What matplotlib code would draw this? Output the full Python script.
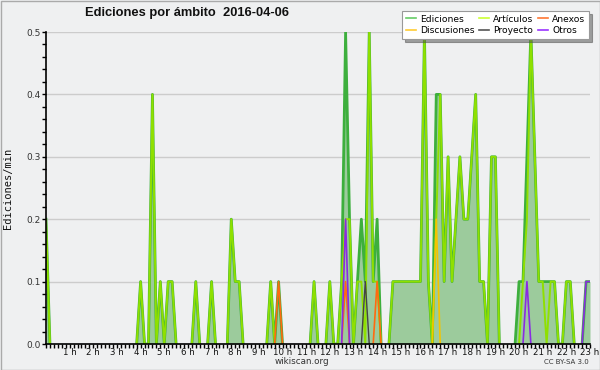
import numpy as np
import matplotlib
matplotlib.use("Agg")
import matplotlib.pyplot as plt
from matplotlib.ticker import MultipleLocator, FixedLocator, FixedFormatter
from matplotlib.patches import Rectangle

# 10-minute bins, values in edits/min, from 0 h to 23 h
ediciones = [
    0.2, 0, 0, 0, 0, 0, 0, 0, 0, 0, 0, 0,
    0, 0, 0, 0, 0, 0, 0, 0, 0, 0, 0, 0,
    0.1, 0, 0, 0.4, 0, 0.1, 0, 0.1, 0.1, 0, 0, 0,
    0, 0, 0.1, 0, 0, 0, 0.1, 0, 0, 0, 0, 0.2,
    0.1, 0.1, 0, 0, 0, 0, 0, 0, 0, 0.1, 0, 0.1,
    0, 0, 0, 0, 0, 0, 0, 0, 0.1, 0, 0, 0,
    0.1, 0, 0, 0.1, 0.5, 0.2, 0, 0.1, 0.2, 0.1, 0.5, 0.1,
    0.2, 0, 0, 0, 0.1, 0.1, 0.1, 0.1, 0.1, 0.1, 0.1, 0.1,
    0.5, 0.1, 0, 0.4, 0.4, 0.1, 0.3, 0.1, 0.2, 0.3, 0.2, 0.2,
    0.3, 0.4, 0.1, 0.1, 0, 0.3, 0.3, 0, 0, 0, 0, 0,
    0.1, 0.1, 0.3, 0.5, 0.3, 0.1, 0.1, 0.1, 0.1, 0.1, 0, 0,
    0.1, 0.1, 0, 0, 0, 0.1, 0.1,
]
articulos = [
    0.2, 0, 0, 0, 0, 0, 0, 0, 0, 0, 0, 0,
    0, 0, 0, 0, 0, 0, 0, 0, 0, 0, 0, 0,
    0.1, 0, 0, 0.4, 0, 0.1, 0, 0.1, 0.1, 0, 0, 0,
    0, 0, 0.1, 0, 0, 0, 0.1, 0, 0, 0, 0, 0.2,
    0.1, 0.1, 0, 0, 0, 0, 0, 0, 0, 0.1, 0, 0,
    0, 0, 0, 0, 0, 0, 0, 0, 0.1, 0, 0, 0,
    0.1, 0, 0, 0.1, 0.2, 0.2, 0, 0.1, 0.1, 0, 0.5, 0.1,
    0.1, 0, 0, 0, 0.1, 0.1, 0.1, 0.1, 0.1, 0.1, 0.1, 0.1,
    0.5, 0.1, 0, 0.2, 0.4, 0.1, 0.3, 0.1, 0.2, 0.3, 0.2, 0.2,
    0.3, 0.4, 0.1, 0.1, 0, 0.3, 0.3, 0, 0, 0, 0, 0,
    0, 0.1, 0.2, 0.5, 0.3, 0.1, 0.1, 0, 0.1, 0.1, 0, 0,
    0.1, 0.1, 0, 0, 0, 0, 0,
]
anexos_bins = [59, 76, 84]
anexos_vals = [0.1, 0.1, 0.1]
discusiones_bins = [99]
discusiones_vals = [0.2]
proyecto_bins = [81]
proyecto_vals = [0.1]
otros_bins = [76, 122, 137, 138]
otros_vals = [0.2, 0.1, 0.1, 0.1]

hour_labels = [f"{h} h" for h in range(1, 24)]

n = len(ediciones)
t = np.arange(n) / 6.0


def series(bins, vals):
    s = np.zeros(n)
    s[bins] = vals
    return s


def hide_baseline(vals):
    """Keep only points that belong to a segment leaving the baseline."""
    v = np.asarray(vals, dtype=float)
    out = v.copy()
    for i in range(len(v)):
        left = v[i - 1] if i > 0 else 0.0
        right = v[i + 1] if i < len(v) - 1 else 0.0
        if v[i] == 0 and left == 0 and right == 0:
            out[i] = np.nan
    return out


anexos = series(anexos_bins, anexos_vals)
discusiones = series(discusiones_bins, discusiones_vals)
proyecto = series(proyecto_bins, proyecto_vals)
otros = series(otros_bins, otros_vals)

bg = "#eff0f1"
fig = plt.figure(figsize=(6.0, 3.7), dpi=100, facecolor=bg)
ax = fig.add_axes([46 / 600, 26 / 370, 544 / 600, 312 / 370])
ax.set_facecolor(bg)

ax.fill_between(t, ediciones, 0, color="#9ccb9c", lw=0, zorder=2)
ax.plot(t, hide_baseline(ediciones), color="#3daf3d", lw=2.0, zorder=3)
ax.plot(t, hide_baseline(articulos), color="#8fe000", lw=1.4, zorder=4)
ax.plot(t, hide_baseline(discusiones), color="#f5c400", lw=1.2, zorder=5)
ax.plot(t, hide_baseline(anexos), color="#ff6a10", lw=1.2, zorder=5)
ax.plot(t, hide_baseline(proyecto), color="#444444", lw=1.0, zorder=5)
ax.plot(t, hide_baseline(otros), color="#8a2be2", lw=1.2, zorder=6)

ax.set_xlim(0, 23)
ax.set_ylim(0, 0.5)

for s in ["top", "right"]:
    ax.spines[s].set_visible(False)
for s in ["left", "bottom"]:
    ax.spines[s].set_color("black")
    ax.spines[s].set_linewidth(1.2)
    ax.spines[s].set_zorder(10)

ax.yaxis.set_minor_locator(MultipleLocator(0.02))
ax.set_yticks([0, 0.1, 0.2, 0.3, 0.4, 0.5])
ax.set_yticklabels(["0.0", "0.1", "0.2", "0.3", "0.4", "0.5"])
ax.xaxis.set_major_locator(FixedLocator(list(range(1, 24))))
ax.xaxis.set_major_formatter(FixedFormatter(hour_labels))
ax.xaxis.set_minor_locator(MultipleLocator(1 / 6))

ax.tick_params(axis="both", which="both", direction="out", color="black",
               width=1, length=3)
ax.tick_params(axis="y", labelsize=6.5, labelcolor="#333333", pad=1)
ax.tick_params(axis="x", labelsize=6.2, labelcolor="#111111", pad=0)
ax.grid(axis="y", which="major", color="#cccccc", lw=1, zorder=1)
ax.set_axisbelow(True)

fig.text(8 / 600, 1 - 188 / 370, "Ediciones/min", rotation=90, ha="center",
         va="center", family="DejaVu Sans Mono", fontsize=7.5, color="#111111")
fig.text(85 / 600, 1 - 13 / 370, "Ediciones por ámbito  2016-04-06",
         ha="left", va="center", fontsize=9.3, fontweight="bold",
         family="Liberation Sans", color="#111111")
fig.text(302 / 600, 1 - 362 / 370, "wikiscan.org", ha="center", va="center",
         fontsize=6.3, color="#333333")
fig.text(589 / 600, 1 - 362 / 370, "CC BY-SA 3.0", ha="right", va="center",
         fontsize=5, color="#333333")

handles = [
    plt.Line2D([], [], color="#66cc66", lw=1.2),
    plt.Line2D([], [], color="#ffcc33", lw=1.2),
    plt.Line2D([], [], color="#ccff33", lw=1.2),
    plt.Line2D([], [], color="#555555", lw=1.2),
    plt.Line2D([], [], color="#ff7733", lw=1.2),
    plt.Line2D([], [], color="#9933ff", lw=1.2),
]
labels = ["Ediciones", "Discusiones", "Artículos", "Proyecto", "Anexos", "Otros"]
leg = fig.legend(handles, labels, ncol=3, loc="upper right",
                 bbox_to_anchor=(589 / 600, 1 - 11 / 370), borderaxespad=0,
                 fontsize=6.6, frameon=True, fancybox=False, shadow=True,
                 framealpha=1, edgecolor="#999999", handlelength=1.1,
                 handletextpad=0.45, columnspacing=0.5, labelspacing=0.3,
                 borderpad=0.4)
leg.get_frame().set_linewidth(0.8)

fig.patches.append(Rectangle((0.5 / 600, 0.5 / 370), 599 / 600, 369 / 370,
                             transform=fig.transFigure, fill=False,
                             edgecolor="#aaaaaa", lw=1))

fig.savefig("out.png", dpi=100, facecolor=bg)
